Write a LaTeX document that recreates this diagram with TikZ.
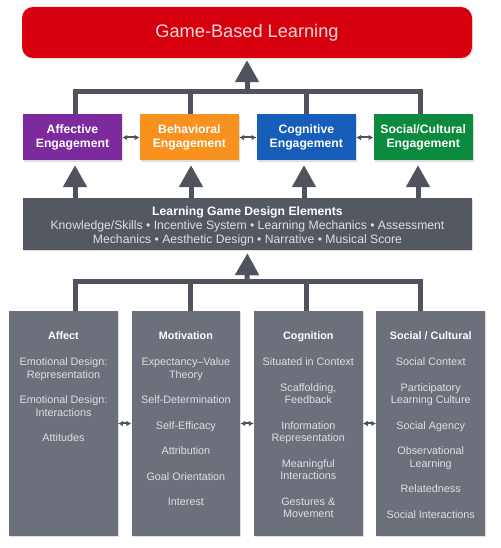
\documentclass[tikz,border=0pt]{standalone}
\usepackage{fontspec}
\setmainfont{Liberation Sans}
\usetikzlibrary{positioning,arrows.meta,shadows}
\definecolor{gblred}{RGB}{214,0,14}
\definecolor{affpurple}{RGB}{125,42,158}
\definecolor{behorange}{RGB}{247,146,30}
\definecolor{cogblue}{RGB}{22,94,186}
\definecolor{socgreen}{RGB}{12,138,62}
\definecolor{designgray}{RGB}{84,88,97}
\definecolor{colgray}{RGB}{108,112,122}
\definecolor{linegray}{RGB}{78,83,93}
\definecolor{itemgray}{RGB}{222,223,226}
\tikzset{
	shade/.style={drop shadow={opacity=0.25, shadow xshift=1pt, shadow yshift=-1.5pt}},
	engbox/.style={shade, minimum width=99pt, minimum height=46pt, inner sep=0pt, text=white, align=center, font=\fontsize{12.2}{14.3}\selectfont\bfseries},
	colbox/.style={shade, fill=colgray, minimum width=108.5pt, minimum height=225pt, inner sep=0pt},
	coltext/.style={inner sep=0pt, align=center, text=itemgray, font=\fontsize{10.8}{12.5}\selectfont},
	tree/.style={line width=5pt, draw=linegray},
	bigarrow/.style={tree, -{Triangle[width=23pt,length=22pt]}},
	twoway/.style={line width=2pt, draw=linegray, {Latex[length=5pt,width=5.5pt]}-{Latex[length=5pt,width=5.5pt]}}
}
\begin{document}
\begin{tikzpicture}[x=1pt,y=1pt]
			\useasboundingbox (0,0) rectangle (500,548);
			\node[shade, fill=gblred, rounded corners=11pt, minimum width=450pt, minimum height=51pt, text=white!85!gblred, font=\fontsize{18.2}{21}\selectfont] (gbl) at (247,515.5) {Game-Based Learning};

			\node[engbox, fill=affpurple] (affective) at (72.5,410.5) {Affective\\Engagement};
			\node[engbox, fill=behorange, right = 17.5pt of affective] (behavioral) {Behavioral\\Engagement};
			\node[engbox, fill=cogblue, right = 17.5pt of behavioral] (cognitive) {Cognitive\\Engagement};
			\node[engbox, fill=socgreen, right = 17.5pt of cognitive] (socialeng) {Social/Cultural\\Engagement};

			\node[shade, fill=designgray, minimum width=449pt, minimum height=52pt, inner sep=0pt, align=center, text=itemgray, font=\fontsize{12.2}{14.2}\selectfont] (design) at (247.5,324)
				{\rule{0pt}{14pt}\textcolor{white}{\bfseries Learning Game Design Elements}\\
				Knowledge/Skills • Incentive System • Learning Mechanics • Assessment\\
				Mechanics • Aesthetic Design • Narrative • Musical Score};

			\node[colbox] (affect) at (63.5,124.5) {};
			\node[colbox, right = 13.5pt of affect] (motivation) {};
			\node[colbox, right = 13.5pt of motivation] (cognition) {};
			\node[colbox, right = 13.5pt of cognition] (socialcol) {};

			\node[coltext, below = 20.5pt of affect.north] (affecttxt)
				{\textcolor{white}{\bfseries Affect}\\[13.8pt]
				Emotional Design:\\Representation\\[13pt]
				Emotional Design:\\Interactions\\[13pt]
				Attitudes};
			\node[coltext, below = 20.5pt of motivation.north] (motivationtxt)
				{\textcolor{white}{\bfseries Motivation}\\[13.8pt]
				Expectancy–Value\\Theory\\[13pt]
				Self-Determination\\[13pt]
				Self-Efficacy\\[13pt]
				Attribution\\[13pt]
				Goal Orientation\\[13pt]
				Interest};
			\node[coltext, below = 20.5pt of cognition.north] (cognitiontxt)
				{\textcolor{white}{\bfseries Cognition}\\[13.8pt]
				Situated in Context\\[13pt]
				Scaffolding,\\Feedback\\[13pt]
				Information\\Representation\\[13pt]
				Meaningful\\Interactions\\[13pt]
				Gestures \&\\Movement};
			\node[coltext, below = 20.5pt of socialcol.north] (socialtxt)
				{\textcolor{white}{\bfseries Social / Cultural}\\[13.8pt]
				Social Context\\[13pt]
				Participatory\\Learning Culture\\[13pt]
				Social Agency\\[13pt]
				Observational\\Learning\\[13pt]
				Relatedness\\[13pt]
				Social Interactions};

			\coordinate (topbar) at (247,456.5);
			\coordinate (lowbar) at (247,266.5);
			\draw[tree, line join=miter] (75,0 |- affective.north) |- (420,0 |- topbar) -- (420,0 |- socialeng.north);
			\draw[tree, line join=miter] (75,0 |- affect.north) |- (420,0 |- lowbar) -- (420,0 |- socialcol.north);
			\foreach \x in {190,306} {
				\draw[tree] (\x,0 |- affective.north) -- (\x,0 |- topbar);
				\draw[tree] (\x,0 |- affect.north) -- (\x,0 |- lowbar);
			}
			\draw[bigarrow, shorten >=2pt] (topbar) -- (gbl.south);
			\draw[bigarrow, shorten >=3pt] (lowbar) -- (design.south);
			\foreach \x/\n in {75/affective, 191/behavioral, 304/cognitive, 418/socialeng}
				\draw[bigarrow, shorten >=4.5pt] (\x,0 |- design.north) -- (\x,0 |- \n.south);

			\draw[twoway] (affective) -- (behavioral);
			\draw[twoway] (behavioral) -- (cognitive);
			\draw[twoway] (cognitive) -- (socialeng);
			\draw[twoway] (affect) -- (motivation);
			\draw[twoway] (motivation) -- (cognition);
			\draw[twoway] (cognition) -- (socialcol);
		\end{tikzpicture}
\end{document}
